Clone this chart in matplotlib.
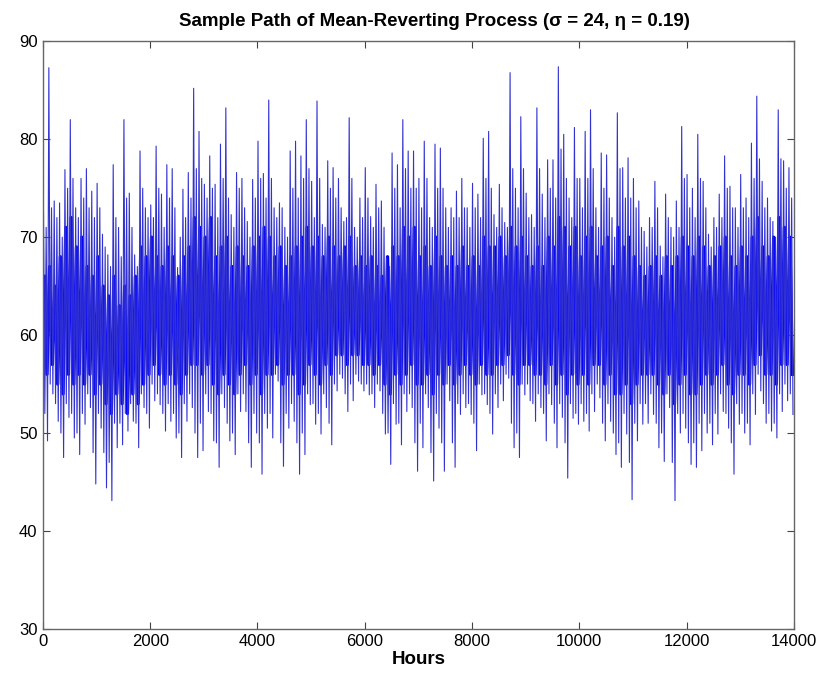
import numpy as np
import matplotlib
matplotlib.use("Agg")
import matplotlib.pyplot as plt

plt.rcParams['font.family'] = ['Liberation Sans', 'DejaVu Sans']

# ---- data ----
# one block = 100 hours; highest and lowest value reached in each block
block_hours = 100
block_max = [
    72.6, 87.3, 73.7, 73.5, 76.9, 82.0, 73.0, 76.0, 77.0, 74.7, 75.5, 70.3, 68.2, 77.4,
    71.0, 82.0, 74.5, 68.2, 78.8, 73.0, 73.3, 79.3, 74.4, 77.4, 77.0, 66.9, 74.9, 76.6,
    85.2, 80.8, 75.4, 78.3, 75.4, 79.5, 83.2, 72.3, 76.6, 76.0, 71.6, 75.9, 79.8, 76.5,
    84.0, 73.0, 73.5, 71.0, 78.8, 79.8, 78.3, 82.0, 75.7, 83.9, 71.3, 77.8, 77.1, 76.0,
    71.6, 82.2, 71.0, 74.0, 77.1, 72.1, 75.4, 73.7, 67.9, 78.6, 77.4, 82.0, 78.8, 78.8,
    76.0, 79.8, 72.0, 79.5, 79.1, 73.0, 73.0, 74.7, 76.0, 73.0, 75.5, 74.4, 80.1, 80.8,
    72.3, 75.4, 71.5, 86.8, 75.0, 82.3, 74.5, 72.3, 83.2, 74.4, 77.9, 77.9, 87.4, 80.5,
    74.0, 81.2, 76.0, 80.8, 83.0, 73.0, 78.6, 78.4, 72.0, 82.7, 77.1, 78.1, 76.0, 73.7,
    70.6, 72.0, 75.7, 69.1, 74.4, 71.0, 73.7, 81.3, 76.4, 75.0, 80.5, 75.7, 70.3, 72.0,
    74.4, 78.3, 75.2, 73.0, 76.4, 74.0, 79.6, 84.4, 75.7, 74.0, 71.6, 83.0, 77.8, 77.1,
]
block_min = [
    49.2, 54.0, 51.2, 47.5, 51.6, 49.5, 47.8, 50.9, 52.6, 44.8, 50.5, 44.4, 43.1, 48.5,
    48.8, 50.2, 51.2, 48.5, 52.6, 50.5, 53.3, 52.9, 50.2, 51.2, 49.5, 47.5, 51.2, 52.6,
    47.5, 48.2, 52.2, 49.2, 46.5, 52.6, 49.2, 47.8, 52.2, 52.2, 46.5, 50.0, 45.8, 50.5,
    49.5, 55.3, 46.6, 50.5, 51.2, 45.8, 47.8, 52.9, 50.9, 49.9, 52.6, 48.8, 54.3, 55.6,
    52.2, 53.3, 55.3, 54.3, 53.9, 52.6, 54.3, 49.9, 46.8, 50.9, 48.8, 52.2, 52.6, 46.1,
    48.5, 52.6, 45.1, 50.5, 46.1, 53.3, 46.5, 51.9, 52.6, 51.9, 48.2, 53.9, 52.9, 49.9,
    52.6, 53.3, 55.6, 48.5, 47.5, 53.9, 53.3, 51.2, 52.6, 49.2, 52.9, 48.5, 51.6, 45.4,
    51.5, 50.9, 51.2, 50.2, 52.2, 53.6, 49.2, 51.2, 47.8, 46.5, 49.9, 43.2, 49.2, 50.9,
    51.0, 51.9, 48.5, 47.1, 52.6, 43.1, 50.0, 50.5, 46.8, 46.5, 48.2, 50.0, 48.8, 49.9,
    52.2, 50.5, 45.8, 50.9, 50.0, 48.8, 51.9, 54.3, 51.0, 50.2, 49.5, 52.2, 53.3, 51.9,
]
# second-largest upward / downward excursion in each block
second_max = [
    71, 73, 72, 70, 75, 76, 72, 74, 73, 72, 73, 69, 67, 72,
    68, 74, 71, 67, 75, 72, 72, 75, 71, 74, 73, 70, 72, 74,
    77, 76, 74, 75, 72, 76, 74, 71, 75, 73, 70, 74, 76, 74,
    76, 72, 73, 70, 75, 74, 76, 77, 72, 76, 71, 75, 74, 73,
    72, 76, 70, 72, 74, 71, 73, 71, 67, 75, 73, 77, 75, 75,
    73, 76, 71, 75, 75, 71, 72, 72, 73, 71, 73, 72, 76, 75,
    71, 73, 71, 77, 73, 77, 72, 71, 77, 72, 75, 74, 79, 76,
    72, 76, 73, 76, 77, 71, 75, 74, 70, 77, 74, 74, 73, 71,
    69, 71, 73, 68, 72, 70, 71, 76, 73, 72, 76, 73, 69, 71,
    72, 75, 73, 71, 73, 72, 76, 78, 73, 72, 70, 78, 75, 74,
]
second_min = [
    52, 55, 53, 50, 53, 52, 50, 52, 54, 48, 52, 48, 47, 51,
    51, 52, 53, 51, 54, 52, 55, 54, 52, 53, 52, 50, 53, 54,
    50, 51, 54, 52, 49, 54, 51, 50, 54, 54, 49, 52, 49, 52,
    52, 56, 49, 52, 53, 49, 50, 54, 53, 52, 54, 51, 55, 56,
    54, 55, 56, 55, 55, 54, 55, 52, 50, 53, 51, 54, 54, 49,
    51, 54, 48, 52, 49, 55, 49, 53, 54, 53, 51, 55, 54, 52,
    54, 55, 56, 51, 50, 55, 55, 53, 54, 52, 54, 51, 53, 49,
    53, 52, 53, 52, 54, 55, 51, 53, 50, 49, 52, 47, 51, 53,
    53, 54, 51, 50, 54, 47, 52, 52, 49, 49, 51, 52, 51, 52,
    54, 52, 49, 53, 52, 51, 54, 56, 53, 52, 51, 54, 55, 54,
]
# upper and lower edge of the dense (solid blue) core in each block
core_hi = [
    66, 67, 65, 68, 71, 72, 69, 70, 67, 66, 68, 65, 64, 66,
    63, 65, 64, 66, 69, 68, 70, 68, 67, 69, 68, 66, 68, 69,
    72, 71, 70, 72, 68, 69, 70, 67, 69, 68, 67, 69, 70, 71,
    70, 68, 69, 67, 68, 69, 70, 71, 69, 70, 68, 70, 69, 68,
    69, 70, 67, 68, 67, 68, 67, 66, 68, 69, 68, 71, 70, 71,
    68, 69, 67, 70, 68, 67, 68, 67, 69, 67, 68, 67, 70, 69,
    69, 70, 68, 71, 69, 70, 68, 67, 69, 67, 70, 69, 72, 71,
    69, 71, 68, 70, 71, 68, 69, 70, 67, 71, 69, 70, 68, 67,
    66, 67, 68, 66, 68, 67, 68, 70, 69, 68, 70, 69, 67, 68,
    69, 70, 68, 67, 69, 68, 70, 72, 69, 68, 70, 72, 71, 70,
]
core_lo = [
    56, 57, 55, 54, 56, 55, 56, 55, 56, 54, 55, 53, 52, 54,
    53, 52, 54, 53, 55, 56, 57, 56, 55, 56, 55, 54, 56, 57,
    57, 56, 57, 55, 54, 56, 55, 54, 56, 57, 55, 56, 54, 56,
    56, 57, 55, 56, 56, 54, 55, 57, 56, 55, 57, 56, 58, 58,
    57, 58, 58, 57, 57, 56, 57, 55, 54, 56, 55, 56, 57, 55,
    55, 56, 54, 56, 55, 57, 55, 56, 57, 56, 55, 57, 56, 56,
    57, 57, 58, 56, 55, 57, 57, 56, 56, 55, 57, 55, 56, 54,
    56, 55, 56, 55, 57, 57, 55, 56, 54, 54, 55, 53, 55, 56,
    56, 56, 55, 54, 56, 53, 55, 56, 54, 54, 55, 56, 55, 56,
    57, 55, 54, 56, 56, 55, 57, 58, 56, 56, 55, 57, 57, 56,
]

x_ticks = [0, 2000, 4000, 6000, 8000, 10000, 12000, 14000]
y_ticks = [30, 40, 50, 60, 70, 80, 90]
title = "Sample Path of Mean-Reverting Process (\u03c3 = 24, \u03b7 = 0.19)"

# ---- build the paths ----
n = len(block_max)
starts = np.arange(n) * block_hours
# dense core: high then low within every block
core_x = (starts[:, None] + np.array([0.25, 0.75])[None, :] * block_hours).ravel()
core_y = np.column_stack([core_hi, core_lo]).ravel()
# excursions: max, second min, second max, min within every block
spk_x = (starts[:, None] + np.array([0.1, 0.35, 0.6, 0.85])[None, :] * block_hours).ravel()
spk_y = np.column_stack([block_max, second_min, second_max, block_min]).ravel()

fig = plt.figure(figsize=(8.26, 6.77), dpi=100)
ax = fig.add_axes([0.052, 0.071, 0.909, 0.868])
ax.plot(core_x, core_y, color='#0000ff', lw=2.4)
ax.plot(spk_x, spk_y, color='#3232d2', lw=0.8)

ax.set_xlim(0, 14000)
ax.set_ylim(30, 90)
ax.set_xticks(x_ticks)
ax.set_yticks(y_ticks)
ax.tick_params(direction='in', top=True, right=True, length=5, width=0.8,
               labelsize=12, color='#444444', pad=4)
for s in ax.spines.values():
    s.set_color('#666666')
    s.set_linewidth(1.0)
ax.set_xlabel("Hours", fontsize=13.5, fontweight='bold', labelpad=1)
ax.set_title(title, fontsize=13.5, fontweight='bold', pad=11, x=0.521)

fig.savefig("out.png", dpi=100)
